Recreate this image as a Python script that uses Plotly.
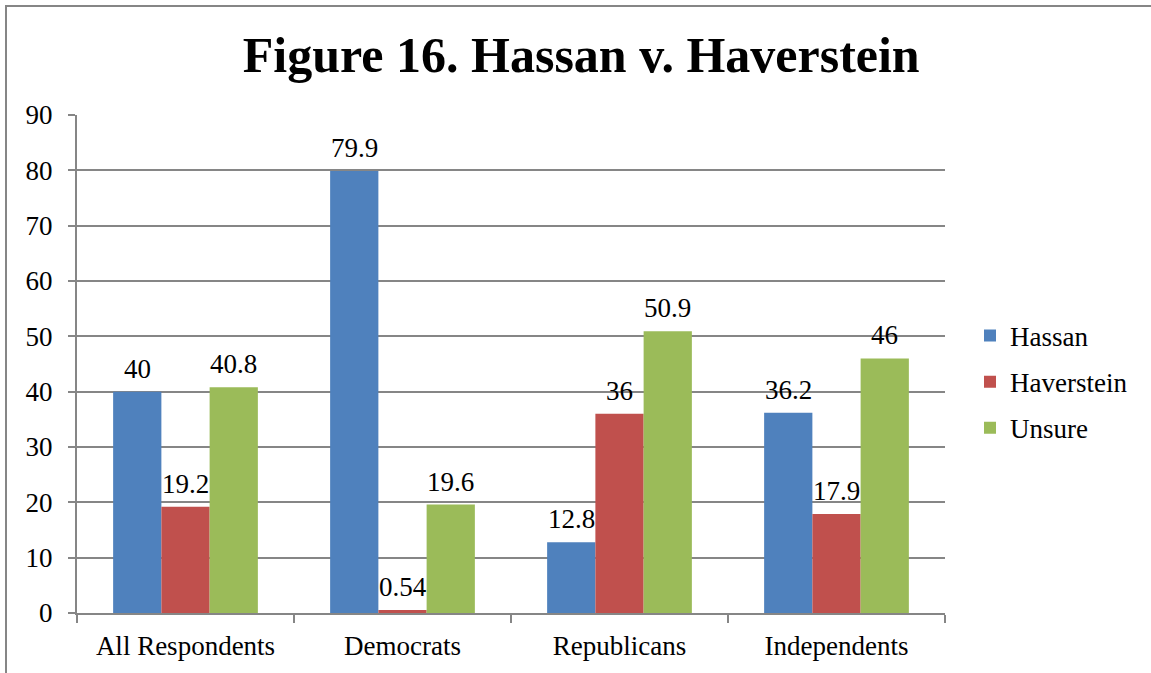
import plotly.graph_objects as go

# chart data
groups = ['All Respondents', 'Democrats', 'Republicans', 'Independents']
hassan = [40, 79.9, 12.8, 36.2]
haverstein = [19.2, 0.54, 36, 17.9]
unsure = [40.8, 19.6, 50.9, 46]
y_ticks = [0, 10, 20, 30, 40, 50, 60, 70, 80, 90]

font_name = 'Liberation Serif'
grey = '#868686'

W, H = 1151, 673
L, R, T, B = 77, 206, 115, 60
pw, ph = W - L - R, H - T - B
bar_w = pw / len(groups) * (1 - 0.333) / 3   # width of one bar in px

series = [('Hassan', hassan, '#4F81BD'),
          ('Haverstein', haverstein, '#C0504D'),
          ('Unsure', unsure, '#9BBB59')]

fig = go.Figure()
for k, (name, vals, col) in enumerate(series):
    fig.add_trace(go.Bar(x=groups, y=vals, name=name, marker_color=col,
                         marker_line_width=0, legendgroup=name))
    # value labels sitting a bit above each bar
    for g, v in zip(groups, vals):
        fig.add_annotation(x=g, y=v, text=str(v), showarrow=False,
                           xshift=(k - 1) * bar_w, yanchor='bottom', yshift=6,
                           font=dict(family=font_name, size=27, color='black'))

fig.update_layout(
    width=W, height=H,
    margin=dict(l=L, r=R, t=T, b=B),
    paper_bgcolor='white', plot_bgcolor='white',
    barmode='group', bargap=0.333, bargroupgap=0,
    font=dict(family=font_name, size=27, color='black'),
    title=dict(text='<b>Figure 16. Hassan v. Haverstein</b>', x=0.505, xanchor='center',
               y=1 - 54 / H, yanchor='middle',
               font=dict(family=font_name, size=50, color='black')),
    legend=dict(x=(970 - L) / pw, xanchor='left', y=(613 - 382) / ph, yanchor='middle',
                font=dict(family=font_name, size=27), tracegroupgap=8,
                itemwidth=30, bgcolor='rgba(0,0,0,0)'),
    showlegend=True,
)
fig.update_xaxes(showline=True, linecolor=grey, linewidth=2, ticks='outside',
                 tickson='boundaries', ticklen=8, tickcolor=grey, tickwidth=2,
                 showgrid=False, ticklabelstandoff=8,
                 tickfont=dict(family=font_name, size=27))
fig.update_yaxes(range=[0, 90], tickvals=y_ticks, showline=True, linecolor=grey, linewidth=2,
                 ticks='outside', ticklen=7, tickcolor=grey, tickwidth=2,
                 showgrid=True, gridcolor=grey, gridwidth=1.5, zeroline=False,
                 ticklabelstandoff=10,
                 tickfont=dict(family=font_name, size=27))

# outer chart border
fig.add_shape(type='rect', xref='paper', yref='paper',
              x0=(6 - L) / pw, x1=(1170 - L) / pw,
              y0=(613 - 690) / ph, y1=1 + (T - 6) / ph,
              line=dict(color=grey, width=2), fillcolor='rgba(0,0,0,0)')

fig.write_html('out.html', config={'displayModeBar': False},
               post_script="document.body.style.margin='0';")
